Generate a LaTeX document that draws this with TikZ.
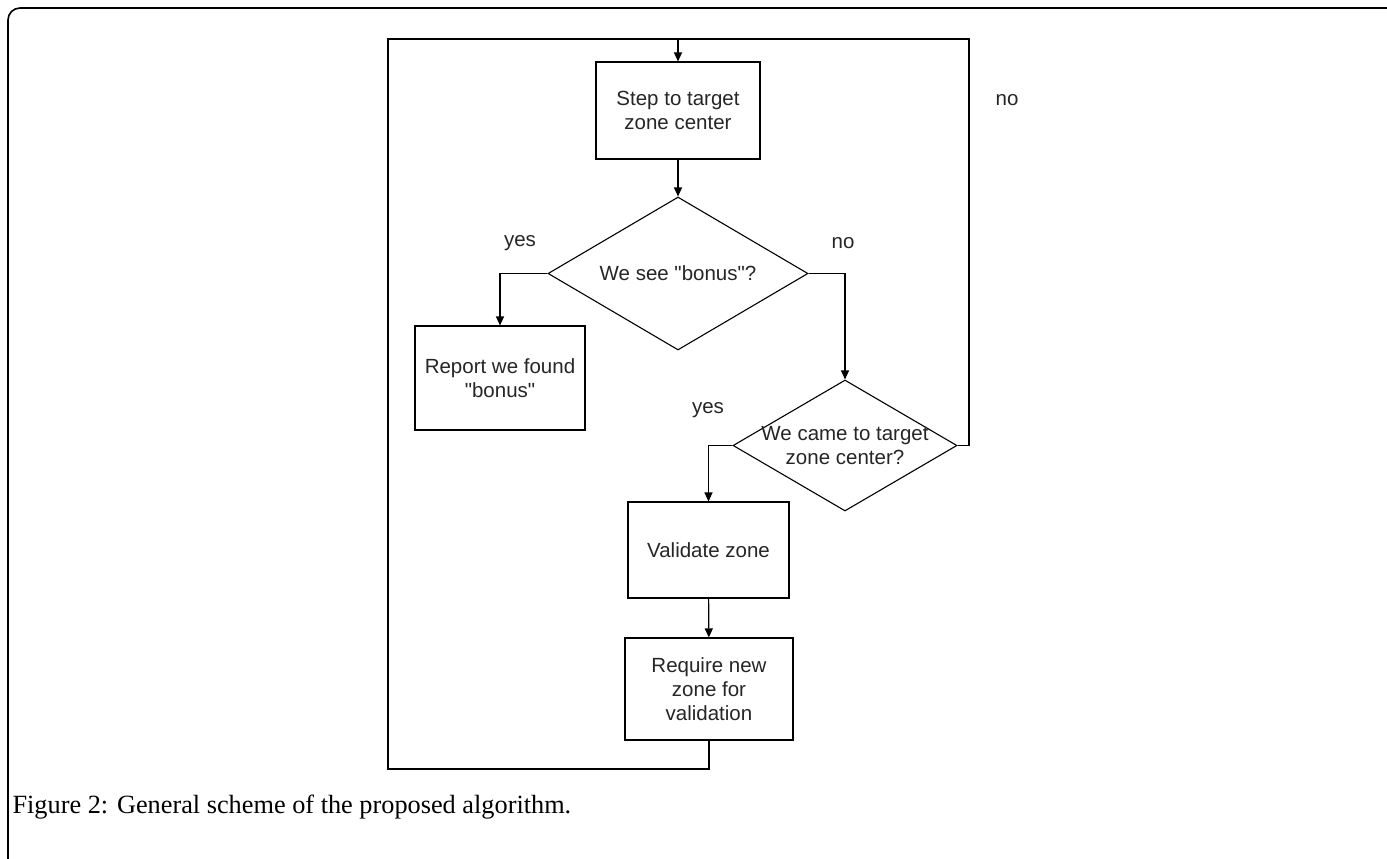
\documentclass[tikz,border=0pt]{standalone}
\usepackage{fontspec}
\setmainfont{Liberation Serif}
\newfontfamily\diafont{Liberation Sans}
\usetikzlibrary{arrows.meta,shapes.geometric}
\begin{document}
\begin{tikzpicture}[x=1pt,y=-1pt,
  line width=1.1pt,
  every node/.style={font=\diafont\fontsize{20.5}{24}\selectfont, text=black!85},
  box/.style={draw, rectangle, inner sep=0pt, align=center},
  dia/.style={draw, diamond, inner sep=0pt},
  arr/.style={-{Triangle[length=9pt,width=8pt]}},
  lbl/.style={inner sep=0pt}]
\useasboundingbox (0,0) rectangle (1387,859);
\fill[white] (0,0) rectangle (1387,859);
% outer frame
\draw[line width=1.6pt, rounded corners=12pt] (8,859) -- (8,8) -- (1387,8);
% nodes
\node[box, minimum width=164pt, minimum height=97pt] (b1) at (678,110.5) {Step to target\\zone center};
\node[dia, minimum width=260pt, minimum height=153pt] (d1) at (678,273.5) {};
\node[lbl] (t1) at (d1.center) {We see "bonus"?};
\node[box, minimum width=170pt, minimum height=104pt] (b2) at (500,378) {Report we found\\"bonus"};
\node[dia, minimum width=224pt, minimum height=131pt] (d2) at (845,445.5) {};
\node[lbl, align=center] (t2) at (d2.center) {We came to target\\zone center?};
\node[box, minimum width=161pt, minimum height=96pt] (b3) at (708.5,550) {Validate zone};
\node[box, minimum width=168pt, minimum height=102pt] (b4) at (709,689) {Require new\\zone for\\validation};
% labels
\node[lbl] (y1) at (520,243) {yes};
\node[lbl] (n1) at (843,243) {no};
\node[lbl] (y2) at (708,410) {yes};
\node[lbl] (n2) at (1007,100) {no};
% loop coordinates
\coordinate (lb) at (388,769);
\coordinate (lt) at (388,39);
\coordinate (rt) at (969,39);
% connectors
\draw[arr] (b1) -- (d1);
\draw[arr] (d1.west) -| (b2.north);
\draw[arr] (d1.east) -| (d2.north);
\draw[arr] (d2.west) -| (b3.north);
\draw[arr] (b3) -- (b4);
\draw (d2.east) -| (rt) -- (lt);
\draw[arr] (b4.south) |- (lb) -- (lt) -| (b1.north);
% caption
\node[anchor=west, inner sep=0pt, font=\rmfamily\fontsize{26.3}{30}\selectfont, text=black] (cap) at (12,807) {Figure 2: General scheme of the proposed algorithm.};
\end{tikzpicture}
\end{document}
